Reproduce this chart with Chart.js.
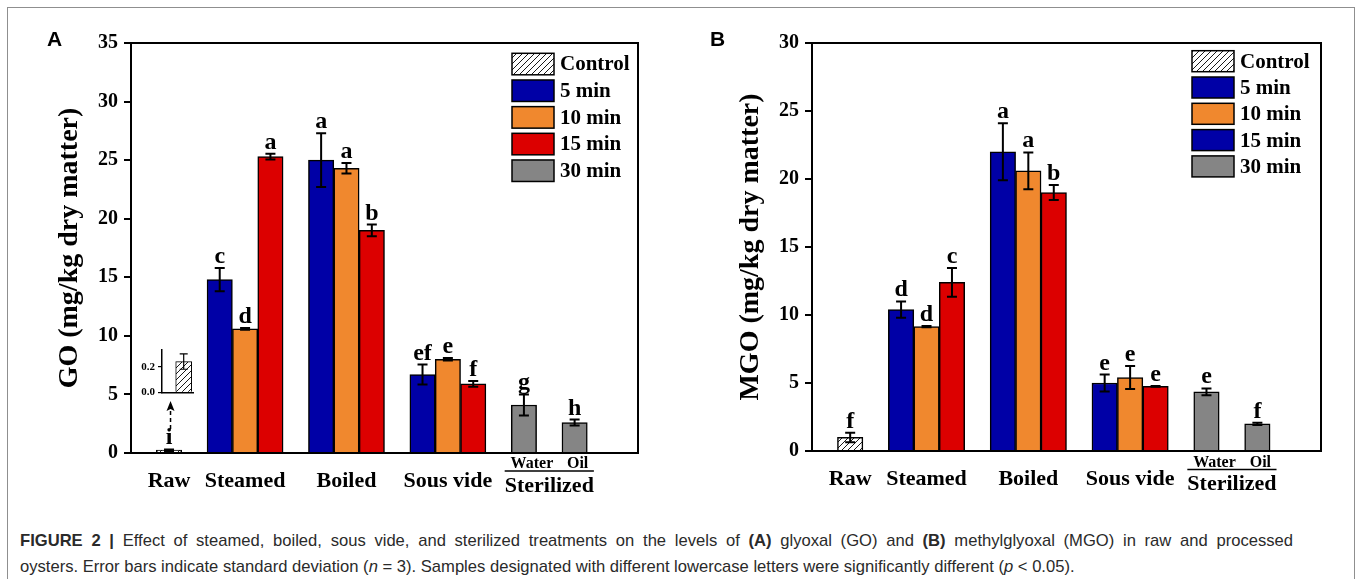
<!DOCTYPE html>
<html><head><meta charset="utf-8">
<script src="https://cdn.jsdelivr.net/npm/chart.js@4.4.1/dist/chart.umd.min.js"></script>
<style>
html,body{margin:0;padding:0;background:#fff;}
body{width:1360px;height:579px;position:relative;overflow:hidden;}
#frame{position:absolute;left:7px;top:7px;width:1348px;height:620px;border:1.5px solid #8f8f8f;box-sizing:border-box;}
canvas{position:absolute;}
#ca{left:0;top:0;}
#cb{left:680px;top:0;}
#ci{left:120px;top:340px;}
.cap{position:absolute;left:20px;font-family:'Liberation Sans',Arial,sans-serif;font-size:16.6px;line-height:20px;color:#2a2a2a;}
#l1{width:1273px;text-align:justify;text-align-last:justify;}
#l2{white-space:nowrap;}
</style></head>
<body>
<div id="frame"></div>
<canvas id="ca" width="680" height="520"></canvas>
<canvas id="cb" width="680" height="520"></canvas>
<canvas id="ci" width="80" height="62"></canvas>
<div class="cap" id="l1" style="top:531px"><b>FIGURE 2 |</b> Effect of steamed, boiled, sous vide, and sterilized treatments on the levels of <b>(A)</b> glyoxal (GO) and <b>(B)</b> methylglyoxal (MGO) in raw and processed</div>
<div class="cap" id="l2" style="top:557px">oysters. Error bars indicate standard deviation (<i>n</i> = 3). Samples designated with different lowercase letters were significantly different (<i>p</i> &lt; 0.05).</div>
<script>
// ---------------- DATA ----------------
const groups = ['Raw', 'Steamed', 'Boiled', 'Sous vide', 'Water', 'Oil'];
const groupBars = [1, 3, 3, 3, 1, 1];
const rawGroups = ['Raw'];
const cookedGroups = ['Steamed', 'Boiled', 'Sous vide'];
const sterilizedGroups = ['Water', 'Oil'];
const sterilizedLabel = 'Sterilized';
const seriesNames = ['Control', '5 min', '10 min', '15 min', '30 min'];

// Panel A: GO (mg/kg dry matter)
const goControl = [0.24];   const goControlSD = [0.06];  const goControlLet = ['i'];
const go5  = [14.8, 25.0, 6.7];  const go5SD  = [1.0, 2.3, 0.85];  const go5Let  = ['c', 'a', 'ef'];
const go10 = [10.6, 24.3, 8.0];  const go10SD = [0.08, 0.45, 0.1]; const go10Let = ['d', 'a', 'e'];
const go15 = [25.3, 19.0, 5.9];  const go15SD = [0.25, 0.5, 0.25]; const go15Let = ['a', 'b', 'f'];
const go30 = [4.1, 2.6];         const go30SD = [0.9, 0.25];       const go30Let = ['g', 'h'];
const goTicks = [0, 5, 10, 15, 20, 25, 30, 35];
const insetTicks = [0.0, 0.2];

// Panel B: MGO (mg/kg dry matter)
const mgoControl = [1.0];  const mgoControlSD = [0.35]; const mgoControlLet = ['f'];
const mgo5  = [10.4, 22.0, 5.0];   const mgo5SD  = [0.6, 2.1, 0.62];   const mgo5Let  = ['d', 'a', 'e'];
const mgo10 = [9.15, 20.6, 5.4];   const mgo10SD = [0.05, 1.35, 0.85]; const mgo10Let = ['d', 'a', 'e'];
const mgo15 = [12.4, 19.0, 4.75];  const mgo15SD = [1.05, 0.55, 0.03]; const mgo15Let = ['c', 'b', 'e'];
const mgo30 = [4.35, 2.0];         const mgo30SD = [0.25, 0.08];       const mgo30Let = ['e', 'f'];
const mgoTicks = [0, 5, 10, 15, 20, 25, 30];

// ---------------- STYLE ----------------
const SERIF = "'Liberation Serif','Times New Roman',serif";
const SANS = "'Liberation Sans',Arial,sans-serif";
const BLUE = '#0000a6', ORANGE = '#f0882e', RED = '#dc0000', GRAY = '#858585';

Chart.defaults.font.family = SERIF;
Chart.defaults.color = '#000';

function hatchPattern(ctx) {
  const c = document.createElement('canvas');
  c.width = 6; c.height = 6;
  const g = c.getContext('2d');
  g.fillStyle = '#fff'; g.fillRect(0, 0, 6, 6);
  g.strokeStyle = '#000'; g.lineWidth = 0.9;
  g.beginPath();
  g.moveTo(-1, 7); g.lineTo(7, -1);
  g.moveTo(-1, 1); g.lineTo(1, -1);
  g.moveTo(5, 7); g.lineTo(7, 5);
  g.stroke();
  return ctx.createPattern(c, 'repeat');
}

// slot positions on linear x axis: one empty slot between groups
const groupStart = {};
let slot = 1;
groups.forEach((gname, i) => { groupStart[gname] = slot; slot += groupBars[i] + 1; });
const xMax = slot + 1;

function pts(gnames, offset, values) {
  return values.map((v, i) => ({ x: groupStart[gnames[i]] + offset + 0.5, y: v }));
}

function buildDatasets(hatch, d) {
  const common = { borderColor: '#000', borderWidth: 1.5, grouped: false, barPercentage: 1, categoryPercentage: 1 };
  return [
    Object.assign({ label: seriesNames[0], data: pts(rawGroups, 0, d.c), err: d.cSD, letters: d.cL, backgroundColor: hatch }, common),
    Object.assign({ label: seriesNames[1], data: pts(cookedGroups, 0, d.m5), err: d.m5SD, letters: d.m5L, backgroundColor: BLUE }, common),
    Object.assign({ label: seriesNames[2], data: pts(cookedGroups, 1, d.m10), err: d.m10SD, letters: d.m10L, backgroundColor: ORANGE }, common),
    Object.assign({ label: seriesNames[3], data: pts(cookedGroups, 2, d.m15), err: d.m15SD, letters: d.m15L, backgroundColor: RED }, common),
    Object.assign({ label: seriesNames[4], data: pts(sterilizedGroups, 0, d.m30), err: d.m30SD, letters: d.m30L, backgroundColor: GRAY }, common)
  ];
}

const errPlugin = {
  id: 'errs',
  afterDatasetsDraw(chart) {
    const ctx = chart.ctx, ys = chart.scales.y;
    const opt = chart.options.plugins.errs || {};
    chart.data.datasets.forEach((ds, di) => {
      if (!ds.err) return;
      const meta = chart.getDatasetMeta(di);
      meta.data.forEach((el, i) => {
        const v = ds.data[i].y, e = ds.err[i];
        const top = ys.getPixelForValue(v + e), bot = ys.getPixelForValue(v - e);
        const cap = opt.cap || 5;
        ctx.save();
        ctx.strokeStyle = '#000'; ctx.lineWidth = opt.lw || 2;
        ctx.beginPath();
        ctx.moveTo(el.x, top); ctx.lineTo(el.x, bot);
        ctx.moveTo(el.x - cap, top); ctx.lineTo(el.x + cap, top);
        ctx.moveTo(el.x - cap, bot); ctx.lineTo(el.x + cap, bot);
        ctx.stroke();
        if (ds.letters && ds.letters[i]) {
          ctx.font = 'bold 24px ' + SERIF;
          ctx.fillStyle = '#000'; ctx.textAlign = 'center'; ctx.textBaseline = 'alphabetic';
          ctx.fillText(ds.letters[i], el.x, top - 5);
        }
        ctx.restore();
      });
    });
  }
};

const decoPlugin = {
  id: 'deco',
  afterDraw(chart) {
    const o = chart.options.plugins.deco;
    if (!o) return;
    const ctx = chart.ctx, a = chart.chartArea, xs = chart.scales.x;
    ctx.save();
    // plot box top/right
    ctx.strokeStyle = '#000'; ctx.lineWidth = 2;
    ctx.beginPath();
    ctx.moveTo(a.left, a.top); ctx.lineTo(a.right, a.top); ctx.lineTo(a.right, a.bottom);
    ctx.stroke();
    // panel letter
    ctx.font = 'bold 21px ' + SANS; ctx.fillStyle = '#000';
    ctx.textAlign = 'left'; ctx.textBaseline = 'alphabetic';
    ctx.fillText(o.panel, o.panelX, o.panelY);
    // category labels
    ctx.textAlign = 'center';
    ctx.font = 'bold 22px ' + SERIF;
    ['Raw', 'Steamed', 'Boiled', 'Sous vide'].forEach((g, i) => {
      const c = groupStart[g] + groupBars[groups.indexOf(g)] / 2;
      ctx.fillText(g, xs.getPixelForValue(c), a.bottom + o.lab1);
    });
    const sc = (groupStart['Water'] + groupStart['Oil'] + 1) / 2;
    const sx = xs.getPixelForValue(sc);
    ctx.fillText(sterilizedLabel, sx, a.bottom + o.lab1 + 5);
    const sw = ctx.measureText(sterilizedLabel).width;
    ctx.font = 'bold 16px ' + SERIF;
    ctx.fillText('Water', xs.getPixelForValue(groupStart['Water'] + 0.5) + 8, a.bottom + o.lab0);
    ctx.fillText('Oil', xs.getPixelForValue(groupStart['Oil'] + 0.5) + 3, a.bottom + o.lab0);
    ctx.lineWidth = 1.5;
    ctx.beginPath();
    ctx.moveTo(sx - sw / 2, a.bottom + o.lab0 + 3); ctx.lineTo(sx + sw / 2, a.bottom + o.lab0 + 3);
    ctx.stroke();
    // legend
    const L = o.legend;
    ctx.font = 'bold 21px ' + SERIF; ctx.textAlign = 'left'; ctx.textBaseline = 'middle';
    seriesNames.forEach((n, i) => {
      const x = a.right + L.dx, y = a.top + L.dy + i * L.gap;
      ctx.fillStyle = L.colors[i];
      ctx.fillRect(x, y, L.w, L.h);
      ctx.strokeStyle = '#000'; ctx.lineWidth = 1.5;
      ctx.strokeRect(x, y, L.w, L.h);
      ctx.fillStyle = '#000';
      ctx.fillText(n, x + L.w + 6, y + L.h / 2 + 1);
    });
    // arrow to inset
    if (o.arrow) {
      const ax = chart.getDatasetMeta(0).data[0].x + 1.5;
      ctx.strokeStyle = '#000'; ctx.lineWidth = 1.5;
      ctx.setLineDash([4, 3]);
      ctx.beginPath(); ctx.moveTo(ax, o.arrow.y1); ctx.lineTo(ax, o.arrow.y0 + 9); ctx.stroke();
      ctx.setLineDash([]);
      ctx.fillStyle = '#000';
      ctx.beginPath();
      ctx.moveTo(ax, o.arrow.y0); ctx.lineTo(ax - 4, o.arrow.y0 + 10); ctx.lineTo(ax, o.arrow.y0 + 8); ctx.lineTo(ax + 4, o.arrow.y0 + 10);
      ctx.closePath(); ctx.fill();
    }
    ctx.restore();
  }
};

function mainChart(id, datasets, yTicks, yTitle, fit, deco) {
  const el = document.getElementById(id);
  return new Chart(el, {
    type: 'bar',
    data: { datasets },
    plugins: [errPlugin, decoPlugin],
    options: {
      animation: false, responsive: false,
      layout: { padding: { top: fit.top, right: fit.right, bottom: 0, left: 0 } },
      plugins: { legend: { display: false }, tooltip: { enabled: false }, deco, errs: { cap: 5, lw: 2 } },
      scales: {
        x: {
          type: 'linear', min: 0, max: xMax, offset: false,
          ticks: { display: false, stepSize: 1 },
          grid: { display: false, offset: false },
          border: { display: true, color: '#000', width: 2 },
          afterFit(s) { s.height = fit.xh; }
        },
        y: {
          min: yTicks[0], max: yTicks[yTicks.length - 1],
          afterBuildTicks(s) { s.ticks = yTicks.map(v => ({ value: v })); },
          ticks: { font: { family: SERIF, weight: 'bold', size: 20 }, color: '#000', padding: 6 },
          grid: { drawOnChartArea: false, drawTicks: true, tickLength: 7, color: '#000', lineWidth: 2 },
          border: { color: '#000', width: 2 },
          title: { display: true, text: yTitle, color: '#000', font: { family: SERIF, weight: 'bold', size: 28 }, padding: { top: fit.tpad, bottom: 0 } },
          afterFit(s) { s.width = fit.yw; }
        }
      }
    }
  });
}

const ctxA = document.getElementById('ca').getContext('2d');
const ctxB = document.getElementById('cb').getContext('2d');
const hatchA = hatchPattern(ctxA), hatchB = hatchPattern(ctxB);

mainChart('ca', buildDatasets(hatchA, {
  c: goControl, cSD: goControlSD, cL: goControlLet,
  m5: go5, m5SD: go5SD, m5L: go5Let,
  m10: go10, m10SD: go10SD, m10L: go10Let,
  m15: go15, m15SD: go15SD, m15L: go15Let,
  m30: go30, m30SD: go30SD, m30L: go30Let
}), goTicks, 'GO (mg/kg dry matter)',
  { top: 43, right: 42, xh: 67, yw: 131, tpad: 53 },
  { panel: 'A', panelX: 47, panelY: 46, lab0: 15, lab1: 33.5,
    legend: { dx: -126, dy: 10.3, gap: 26.67, w: 42, h: 21.5, colors: [hatchA, BLUE, ORANGE, RED, GRAY] },
    arrow: { y0: 401, y1: 429 } });

mainChart('cb', buildDatasets(hatchB, {
  c: mgoControl, cSD: mgoControlSD, cL: mgoControlLet,
  m5: mgo5, m5SD: mgo5SD, m5L: mgo5Let,
  m10: mgo10, m10SD: mgo10SD, m10L: mgo10Let,
  m15: mgo15, m15SD: mgo15SD, m15L: mgo15Let,
  m30: mgo30, m30SD: mgo30SD, m30L: mgo30Let
}), mgoTicks, 'MGO (mg/kg dry matter)',
  { top: 43, right: 39, xh: 69, yw: 132, tpad: 54 },
  { panel: 'B', panelX: 30, panelY: 46, lab0: 15.5, lab1: 34,
    legend: { dx: -129, dy: 7.7, gap: 26.3, w: 42, h: 21, colors: [hatchB, BLUE, ORANGE, BLUE, GRAY] } });

// inset of panel A (raw control, zoomed y range)
const ctxI = document.getElementById('ci').getContext('2d');
new Chart(ctxI, {
  type: 'bar',
  data: { datasets: [{ data: [{ x: 1.4, y: goControl[0] }], err: goControlSD, backgroundColor: hatchPattern(ctxI), borderColor: '#000', borderWidth: 1, barThickness: 16, grouped: false }] },
  plugins: [errPlugin],
  options: {
    animation: false, responsive: false,
    layout: { padding: { top: 10, right: 7, bottom: 6, left: 0 } },
    plugins: { legend: { display: false }, tooltip: { enabled: false }, errs: { cap: 4, lw: 1.2 } },
    scales: {
      x: { type: 'linear', min: 0, max: 2, offset: false, ticks: { display: false }, grid: { display: false }, border: { color: '#000', width: 1.5 }, afterFit(s) { s.height = 0; } },
      y: {
        min: 0, max: 0.33,
        afterBuildTicks(s) { s.ticks = insetTicks.map(v => ({ value: v })); },
        ticks: { font: { family: SERIF, weight: 'bold', size: 11 }, color: '#000', padding: 3, callback: v => v.toFixed(1) },
        grid: { drawOnChartArea: false, tickLength: 4, color: '#000', lineWidth: 1.2 },
        border: { color: '#000', width: 1.5 },
        afterFit(s) { s.width = 42; }
      }
    }
  }
});
</script>
</body></html>
